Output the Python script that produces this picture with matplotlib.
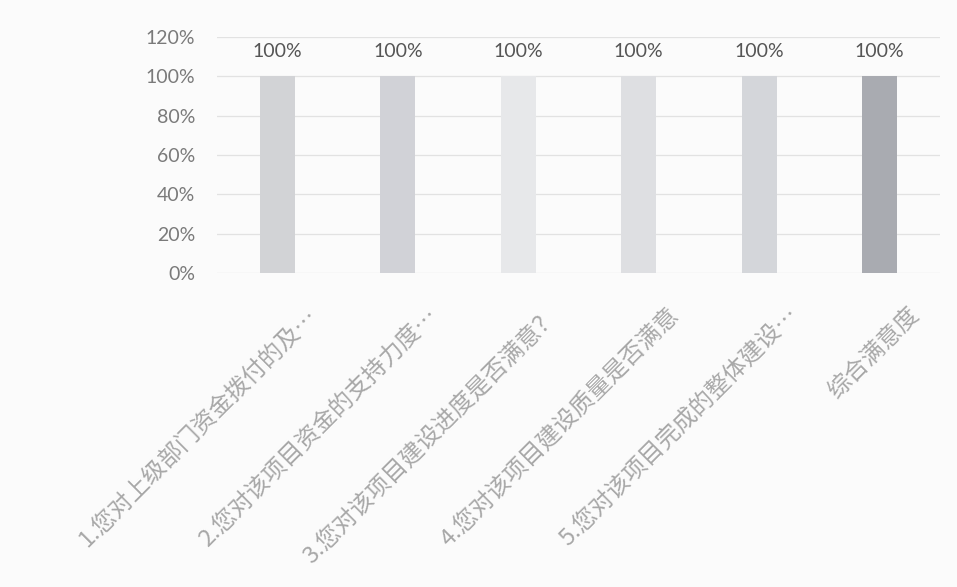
import matplotlib
matplotlib.use("Agg")
import matplotlib.pyplot as plt
import matplotlib.transforms as mtransforms
from matplotlib.ticker import PercentFormatter

# data
categories = [
    "1.您对上级部门资金拨付的及…",
    "2.您对该项目资金的支持力度…",
    "3.您对该项目建设进度是否满意？",
    "4.您对该项目建设质量是否满意",
    "5.您对该项目完成的整体建设…",
    "综合满意度",
]
satisfaction = [1.0, 1.0, 1.0, 1.0, 1.0, 1.0]
bar_colors = ["#d2d3d6", "#d1d2d7", "#e7e8ea", "#dedfe2", "#d4d6da", "#a9abb1"]

plt.rcParams['font.family'] = ['Lato', 'Noto Sans CJK SC', 'DejaVu Sans']

fig = plt.figure(figsize=(9.57, 5.87), dpi=100, facecolor="#fbfbfb")
ax = fig.add_axes([0.227, 0.535, 0.755, 0.402])
ax.set_facecolor("#fbfbfb")

x = range(len(categories))
bars = ax.bar(x, satisfaction, width=0.29, color=bar_colors, zorder=2)
ax.bar_label(bars, labels=[f"{v:.0%}" for v in satisfaction],
             padding=12, fontsize=14, color="#555555")

ax.set_ylim(0, 1.2)
ax.set_xlim(-0.5, len(categories) - 0.5)
ax.set_yticks([0, 0.2, 0.4, 0.6, 0.8, 1.0, 1.2])
ax.yaxis.set_major_formatter(PercentFormatter(1.0, decimals=0))
ax.grid(axis='y', color="#e2e2e2", linewidth=0.9, zorder=0)

for s in ax.spines.values():
    s.set_visible(False)
ax.tick_params(axis='both', length=0)
ax.tick_params(axis='y', labelsize=14, labelcolor="#7a7a7a", pad=16)

ax.set_xticks(list(x))
ax.set_xticklabels(categories, rotation=45, ha='right', va='center',
                   rotation_mode='anchor', fontsize=17, color="#a8a8a8",
                   fontweight='light',
                   family=['Noto Sans CJK SC', 'DejaVu Sans'])
ax.tick_params(axis='x', pad=28)
# shift rotated labels to the right like the original
shift = mtransforms.ScaledTranslation(36 / 100, 0, fig.dpi_scale_trans)
for lbl in ax.get_xticklabels():
    lbl.set_transform(lbl.get_transform() + shift)

fig.savefig("out.png", dpi=100, facecolor=fig.get_facecolor())
